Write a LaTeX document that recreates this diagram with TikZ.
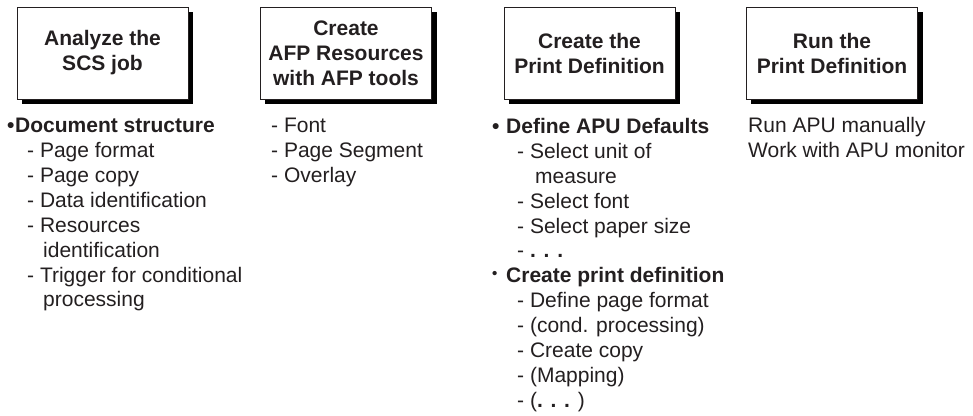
\documentclass[tikz,border=0pt]{standalone}
\usepackage{fontspec}
\setmainfont{Liberation Sans}
\usetikzlibrary{backgrounds}
\definecolor{inkgray}{RGB}{35,31,32}
\tikzset{
  stepbox/.style={draw=inkgray,line width=.8pt,fill=white,minimum width=171pt,minimum height=92pt,
    inner sep=0pt,align=center,text=inkgray,font=\bfseries\fontsize{21}{25}\selectfont},
  boxshadow/.style={fill=black},
  itemlist/.style={anchor=north west,inner sep=0pt,align=left,text=inkgray,font=\fontsize{21}{24.9}\selectfont}
}
\newcommand{\ind}[1]{\hspace*{#1pt}}
\begin{document}
\begin{tikzpicture}[x=1pt,y=-1pt]
\useasboundingbox (0,0) rectangle (973,415);
% the four steps
\node[stepbox] (analyze) at (102.5,53) {Analyze the\\SCS job};
\node[stepbox] (resources) at (346,53) {Create\\AFP Resources\\with AFP tools};
\node[stepbox] (createdef) at (589.5,53) {Create the\\Print Definition};
\node[stepbox] (rundef) at (832,53) {Run the\\Print Definition};
\begin{pgfonlayer}{background}
\foreach \b in {analyze,resources,createdef,rundef}
  \fill[boxshadow] ([shift={(5,5)}]\b.north west) rectangle ([shift={(5,5)}]\b.south east);
\end{pgfonlayer}
% what each step covers
\node[itemlist] (analyzelist) at (7,118) {\textbf{\makebox[8pt][l]{•}Document structure}\\
\ind{20}- Page format\\
\ind{20}- Page copy\\
\ind{20}- Data identification\\
\ind{20}- Resources\\
\ind{36}identification\\
\ind{20}- Trigger for conditional\\
\ind{36}processing};
\node[itemlist] (resourcelist) at (271,118) {- Font\\- Page Segment\\- Overlay};
\node[itemlist] (createlist) at (492,118) {\textbf{\makebox[14pt][l]{•}Define APU Defaults}\\
\ind{25}- Select unit of\\
\ind{43}measure\\
\ind{25}- Select font\\
\ind{25}- Select paper size\\
\ind{25}- \textbf{. . .}\\
\textbf{\makebox[14pt][l]{\raisebox{4pt}{\fontsize{15}{15}\selectfont•}}Create print definition}\\
\ind{25}- Define page format\\
\ind{25}- (cond. processing)\\
\ind{25}- Create copy\\
\ind{25}- (Mapping)\\
\ind{25}- (\textbf{. . .} )};
\node[itemlist] (runlist) at (748,117) {Run APU manually\\Work with APU monitor};
\end{tikzpicture}
\end{document}
